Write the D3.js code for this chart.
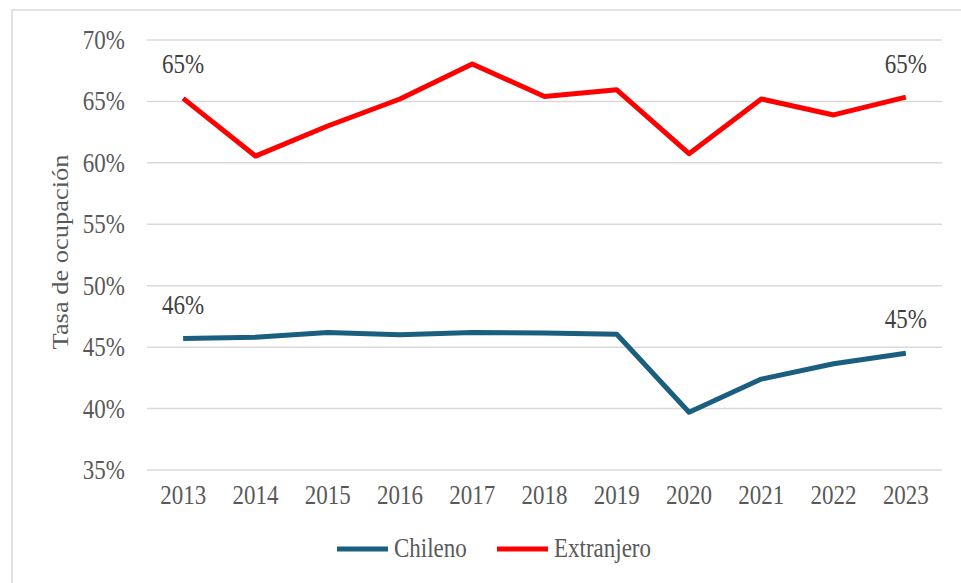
<!DOCTYPE html>
<meta charset="utf-8">
<style>
body { margin: 0; background: #fff; }
text { font-family: "Liberation Serif", "Times New Roman", serif; font-size: 23px; }
.grid line { stroke: #d9d9d9; stroke-width: 1.5; }
</style>
<svg width="961" height="583"></svg>
<script src="https://cdn.jsdelivr.net/npm/d3@7"></script>
<script>

var years = ["2013","2014","2015","2016","2017","2018","2019","2020","2021","2022","2023"];
var chileno = [45.7, 45.8, 46.2, 46.0, 46.2, 46.15, 46.05, 39.7, 42.4, 43.65, 44.5];
var extranjero = [65.25, 60.55, 63.0, 65.2, 68.05, 65.4, 65.95, 60.75, 65.2, 63.9, 65.35];
var yTicks = [35, 40, 45, 50, 55, 60, 65, 70];
var seriesNames = ["Chileno", "Extranjero"];
var seriesColors = ["#1a5e80", "#ff0000"];

var svg = d3.select("svg"),
    width = +svg.attr("width"),
    height = +svg.attr("height");

// the reference is a bit taller than wide, so glyphs get stretched vertically
var stretch = 1.15;
function at(px, py) { return "translate(" + px + "," + py + ") scale(1," + stretch + ")"; }

// chart frame
svg.append("rect")
  .attr("x", 12).attr("y", 10)
  .attr("width", 960).attr("height", 590)
  .attr("fill", "none")
  .attr("stroke", "#d9d9d9")
  .attr("stroke-width", 1.5);

var x = d3.scalePoint()
  .domain(years)
  .range([147, 942])
  .padding(0.5);

var y = d3.scaleLinear()
  .domain([35, 70])
  .range([470, 40]);

var grid = svg.append("g").attr("class", "grid");
grid.selectAll("line").data(yTicks).enter().append("line")
  .attr("x1", 147).attr("x2", 942)
  .attr("y1", function(d) { return y(d); })
  .attr("y2", function(d) { return y(d); });

svg.append("g").selectAll("text").data(yTicks).enter().append("text")
  .attr("transform", function(d) { return at(125, y(d) + 9); })
  .attr("text-anchor", "end")
  .attr("fill", "#595959")
  .text(function(d) { return d + "%"; });

svg.append("g").selectAll("text").data(years).enter().append("text")
  .attr("transform", function(d) { return at(x(d), 504); })
  .attr("text-anchor", "middle")
  .attr("fill", "#595959")
  .text(function(d) { return d; });

svg.append("text")
  .attr("transform", "translate(68,252) rotate(-90) scale(" + stretch + ",1)")
  .attr("text-anchor", "middle")
  .attr("fill", "#595959")
  .text("Tasa de ocupación");

var line = d3.line()
  .x(function(d, i) { return x(years[i]); })
  .y(function(d) { return y(d); });

[chileno, extranjero].forEach(function(s, k) {
  svg.append("path")
    .datum(s)
    .attr("d", line)
    .attr("fill", "none")
    .attr("stroke", seriesColors[k])
    .attr("stroke-width", 5)
    .attr("stroke-linejoin", "round");

  var last = s.length - 1;
  var lbl = [[0, s[0]], [last, s[last]]];
  svg.append("g").selectAll("text").data(lbl).enter().append("text")
    .attr("transform", function(d) {
      return at(x(years[d[0]]), k == 0 ? y(d[1]) - 25 : 73);
    })
    .attr("text-anchor", "middle")
    .attr("fill", "#404040")
    .text(function(d) { return Math.round(d[1]) + "%"; });
});

// legend
var legX = [337, 497];
var legend = svg.selectAll(".legend").data(seriesNames)
  .enter().append("g").attr("class", "legend");

legend.append("line")
  .attr("x1", function(d, i) { return legX[i]; })
  .attr("x2", function(d, i) { return legX[i] + 51; })
  .attr("y1", 549).attr("y2", 549)
  .attr("stroke", function(d, i) { return seriesColors[i]; })
  .attr("stroke-width", 5);

legend.append("text")
  .attr("transform", function(d, i) { return at(legX[i] + 57, 557); })
  .attr("fill", "#595959")
  .text(function(d) { return d; });

</script>
